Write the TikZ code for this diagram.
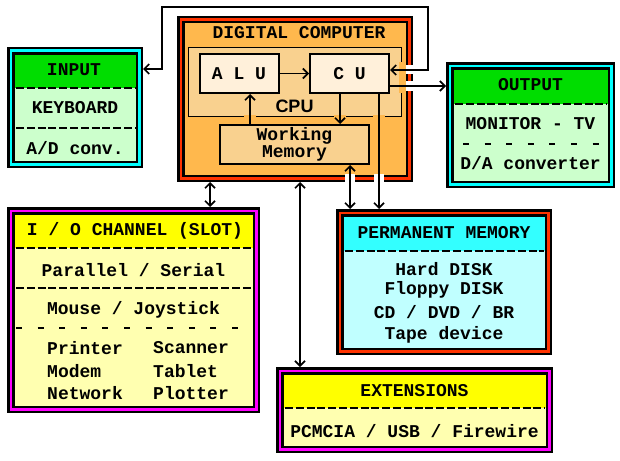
\documentclass[tikz,border=0pt]{standalone}
\usepackage{fontspec}
\newfontfamily\monof{Liberation Mono}
\newfontfamily\sansf{Liberation Sans}
\usetikzlibrary{arrows.meta}
\definecolor{compor}{HTML}{FFB84D}
\definecolor{cpuc}{HTML}{F9D18F}
\definecolor{alufill}{HTML}{FFF0DA}
\definecolor{hgreen}{HTML}{00DD00}
\definecolor{lgreen}{HTML}{CCFFCC}
\definecolor{bcyan}{HTML}{00FFFF}
\definecolor{hcyan}{HTML}{33FFFF}
\definecolor{lcyan}{HTML}{C0FFFF}
\definecolor{hyellow}{HTML}{FFFF00}
\definecolor{lyellow}{HTML}{FFFFB0}
\definecolor{bmag}{HTML}{FF00FF}
\definecolor{bred}{HTML}{FF3300}
\tikzset{
  tribox/.style={draw=black, line width=2.5pt, double=#1, double distance=2.5pt,
    inner sep=0pt, outer sep=3.75pt, rectangle},
  innerbox/.style={draw=black, line width=2pt, inner sep=0pt, rectangle},
  mono/.style={font=\monof\bfseries\fontsize{18}{17}\selectfont, inner sep=0pt},
  dense/.style={line width=2.5pt, dash pattern=on 8pt off 2.8pt},
  sparse/.style={line width=2.5pt, dash pattern=on 6pt off 15.6pt},
  conn/.style={line width=1.7pt, draw=black},
  >={Straight Barb[length=5pt,width=10pt]}
}
\begin{document}
\begin{tikzpicture}[x=1pt,y=-1pt]
\useasboundingbox (0,0) rectangle (620,460);

% ---------- DIGITAL COMPUTER ----------
\node[tribox=bred, fill=compor, minimum width=228.5pt, minimum height=158.5pt] (comp) at (295,99) {};
\node[mono] (comptitle) at (299,33) {DIGITAL COMPUTER};
\node[draw=black, line width=1pt, fill=cpuc, inner sep=0pt, minimum width=213pt, minimum height=69pt] (cpu) at (295,82) {};
\node[font=\sansf\bfseries\fontsize{18}{18}\selectfont, inner sep=0pt] (cpulabel) at (294.5,106) {CPU};
\node[innerbox, fill=alufill, minimum width=79pt, minimum height=39pt] (alu) at (239.5,73.5) {};
\node[mono] (alutext) at (239,73.5) {A L U};
\node[innerbox, fill=alufill, minimum width=79pt, minimum height=39pt] (cu) at (349.5,73.5) {};
\node[mono] (cutext) at (349.5,73.5) {C U};
\node[innerbox, fill=cpuc, minimum width=149pt, minimum height=39pt] (wm) at (294.5,144.5) {};
\node[mono, align=center] (wmtext) at (294.5,144.5) {Working\\Memory};

% ---------- INPUT ----------
\node[tribox=bcyan, fill=lgreen, minimum width=128.5pt, minimum height=113.5pt] (inp) at (75,107.5) {};
\fill[hgreen] (14.5,54.5) rectangle (135.5,88);
\draw[dense] (16,88) -- (135,88);
\draw[dense] (16,128) -- (135,128);
\node[mono] (inpt) at (74,70) {INPUT};
\node[mono] (kbd) at (75,108) {KEYBOARD};
\node[mono] (adc) at (75,148) {A/D conv.};

% ---------- OUTPUT ----------
\node[tribox=bcyan, fill=lgreen, minimum width=161.5pt, minimum height=118.5pt] (out) at (530.5,125) {};
\fill[hgreen] (453.5,69.5) rectangle (607.5,104);
\draw[dense] (455,104) -- (607,104);
\draw[sparse] (463,144) -- (607,144);
\node[mono] (outt) at (530.5,85) {OUTPUT};
\node[mono] (mon) at (530.5,124) {MONITOR - TV};
\node[mono] (dac) at (530.5,163) {D/A converter};

% ---------- I/O CHANNEL ----------
\node[tribox=bmag, fill=lyellow, minimum width=245.5pt, minimum height=198.5pt] (io) at (133.5,310) {};
\fill[hyellow] (14.5,214.5) rectangle (252.5,248);
\draw[dense] (16,248) -- (252,248);
\draw[dense] (16,288) -- (252,288);
\draw[sparse] (16,328) -- (252,328);
\node[mono] (iot) at (135,231) {I / O CHANNEL (SLOT)};
\node[mono] (par) at (133.5,270) {Parallel / Serial};
\node[mono] (mouse) at (133.5,310) {Mouse / Joystick};
\node[mono, anchor=west] (prn) at (47,348) {Printer};
\node[mono, anchor=west] (mdm) at (47,371) {Modem};
\node[mono, anchor=west] (net) at (47,393) {Network};
\node[mono, anchor=west] (scn) at (153,348) {Scanner};
\node[mono, anchor=west] (tab) at (153,371) {Tablet};
\node[mono, anchor=west] (plt) at (153,393) {Plotter};

% ---------- PERMANENT MEMORY ----------
\node[tribox=bred, fill=lcyan, minimum width=208.5pt, minimum height=138.5pt] (perm) at (444,282) {};
\fill[hcyan] (343.5,216.5) rectangle (544.5,251);
\draw[dense] (345,251) -- (544,251);
\node[mono] (permt) at (444,233) {PERMANENT MEMORY};
\node[mono] (hd) at (444,269) {Hard DISK};
\node[mono] (fd) at (444,290) {Floppy DISK};
\node[mono] (cd) at (444,312) {CD / DVD / BR};
\node[mono] (tape) at (444,335) {Tape device};

% ---------- EXTENSIONS ----------
\node[tribox=bmag, fill=lyellow, minimum width=269.5pt, minimum height=78.5pt] (ext) at (414.5,410) {};
\fill[hyellow] (283.5,374.5) rectangle (545.5,408);
\draw[dense] (285,408) -- (545,408);
\node[mono] (extt) at (414.5,391) {EXTENSIONS};
\node[mono] (pcm) at (414.5,431) {PCMCIA / USB / Firewire};

% ---------- gaps where connectors cross borders ----------
\fill[white] (345,174) rectangle (355,183);
\fill[white] (374,174) rectangle (384,183);
\fill[white] (405.5,65) rectangle (414,74);
\fill[white] (405.5,81) rectangle (414,91);
\fill[compor] (244,114.5) rectangle (256,120);
\fill[compor] (334,114.5) rectangle (346,120);
\fill[compor] (373,114.5) rectangle (385,120);
\fill[compor] (399,62) rectangle (405.5,93);

% ---------- connectors ----------
\coordinate (x210) at (210,0);
\coordinate (x250) at (250,0);
\coordinate (x300) at (300,0);
\coordinate (x340) at (340,0);
\coordinate (x350) at (350,0);
\coordinate (x379) at (379,0);
\coordinate (y69) at (0,69);
\coordinate (y70) at (0,70);
\coordinate (y86) at (0,86);
\coordinate (lt) at (162,7);
\coordinate (rt) at (428,7);

\draw[conn,->] (alu.east) -- (cu.west);
\draw[conn,->] (wm.north -| x250) -- (alu.south -| x250);
\draw[conn,->] (cu.south -| x340) -- (wm.north -| x340);
\draw[conn,->] (cu.south -| x379) -- (perm.north -| x379);
\draw[conn,<->] (wm.south -| x350) -- (perm.north -| x350);
\draw[conn,<->] (comp.south -| x210) -- (io.north -| x210);
\draw[conn,<->] (comp.south -| x300) -- (ext.north -| x300);
\draw[conn,->] (cu.east |- y86) -- (out.west |- y86);
\draw[conn,<->] (inp.east |- y69) -| (lt) -- (rt) |- (cu.east |- y70);
\end{tikzpicture}
\end{document}
